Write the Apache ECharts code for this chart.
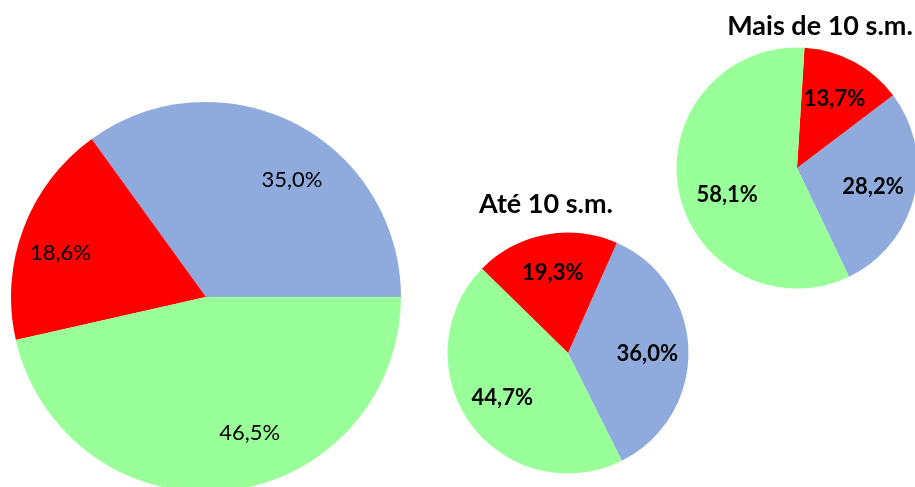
<!DOCTYPE html>
<html><head><meta charset="utf-8">
<script src="https://cdn.jsdelivr.net/npm/echarts@6/dist/echarts.min.js"></script>
<style>html,body{margin:0;padding:0;background:#fff}#c{width:915px;height:487px}</style>
</head><body><div id="c"></div>
<script>
// ---- data ----
const categories = ['Categoria 1', 'Categoria 2', 'Categoria 3'];
const totalValues = [35.0, 18.6, 46.5];
const ate10Values = [36.0, 19.3, 44.7];
const mais10Values = [28.2, 13.7, 58.1];
const pieTitles = ['Até 10 s.m.', 'Mais de 10 s.m.'];

// ---- style ----
const colors = ['#8FAADC', '#FF0000', '#99FF99'];
const FONT = 'Lato';
const bigLabelShift = [[18, 16], [-6, 9], [27, -12]];
const ateLabelShift = [[-2, 3], [0, 0], [0, -3]];
const maisLabelShift = [[-3, 0], [-1, 3], [10, 11]];

const fmt = p => p.value.toFixed(1).replace('.', ',') + '%';
const toData = vals => vals.map((v, i) => ({ name: categories[i], value: v }));
const shifter = arr => p => ({ dx: arr[p.dataIndex][0], dy: arr[p.dataIndex][1] });

function pie(vals, center, r, start, labelInnerFrac, labelStyle, layout) {
  return [
    { type: 'pie', center: center, radius: [0, r], startAngle: start, clockwise: false,
      silent: true, animation: false, color: colors, data: toData(vals),
      itemStyle: { borderWidth: 0 }, label: { show: false }, labelLine: { show: false } },
    { type: 'pie', center: center, radius: [r * labelInnerFrac, r], startAngle: start, clockwise: false,
      silent: true, animation: false, avoidLabelOverlap: false, data: toData(vals),
      itemStyle: { color: 'rgba(0,0,0,0)', borderWidth: 0 },
      label: Object.assign({ show: true, position: 'inside', formatter: fmt, color: '#000', fontFamily: FONT }, labelStyle),
      labelLine: { show: false }, labelLayout: layout }
  ];
}

const chart = echarts.init(document.getElementById('c'), null, { renderer: 'canvas' });
chart.setOption({
  backgroundColor: '#fff',
  title: [
    { text: pieTitles[0], left: 546, top: 191, textAlign: 'center', padding: 0,
      textStyle: { fontFamily: FONT, fontWeight: 'bold', fontSize: 27, color: '#000' } },
    { text: pieTitles[1], left: 820, top: 13, textAlign: 'center', padding: 0,
      textStyle: { fontFamily: FONT, fontWeight: 'bold', fontSize: 27, color: '#000' } }
  ],
  series: [].concat(
    pie(totalValues, [206, 297], 195, 0, 0.5, { fontSize: 22, fontWeight: 'normal' }, shifter(bigLabelShift)),
    pie(ate10Values, [568, 353], 120.5, -63.5, 0.3, { fontSize: 22, fontWeight: 'bold' }, shifter(ateLabelShift)),
    pie(mais10Values, [797, 168], 120.5, -64.4, 0.3, { fontSize: 22, fontWeight: 'bold' }, shifter(maisLabelShift))
  )
});
</script></body></html>
